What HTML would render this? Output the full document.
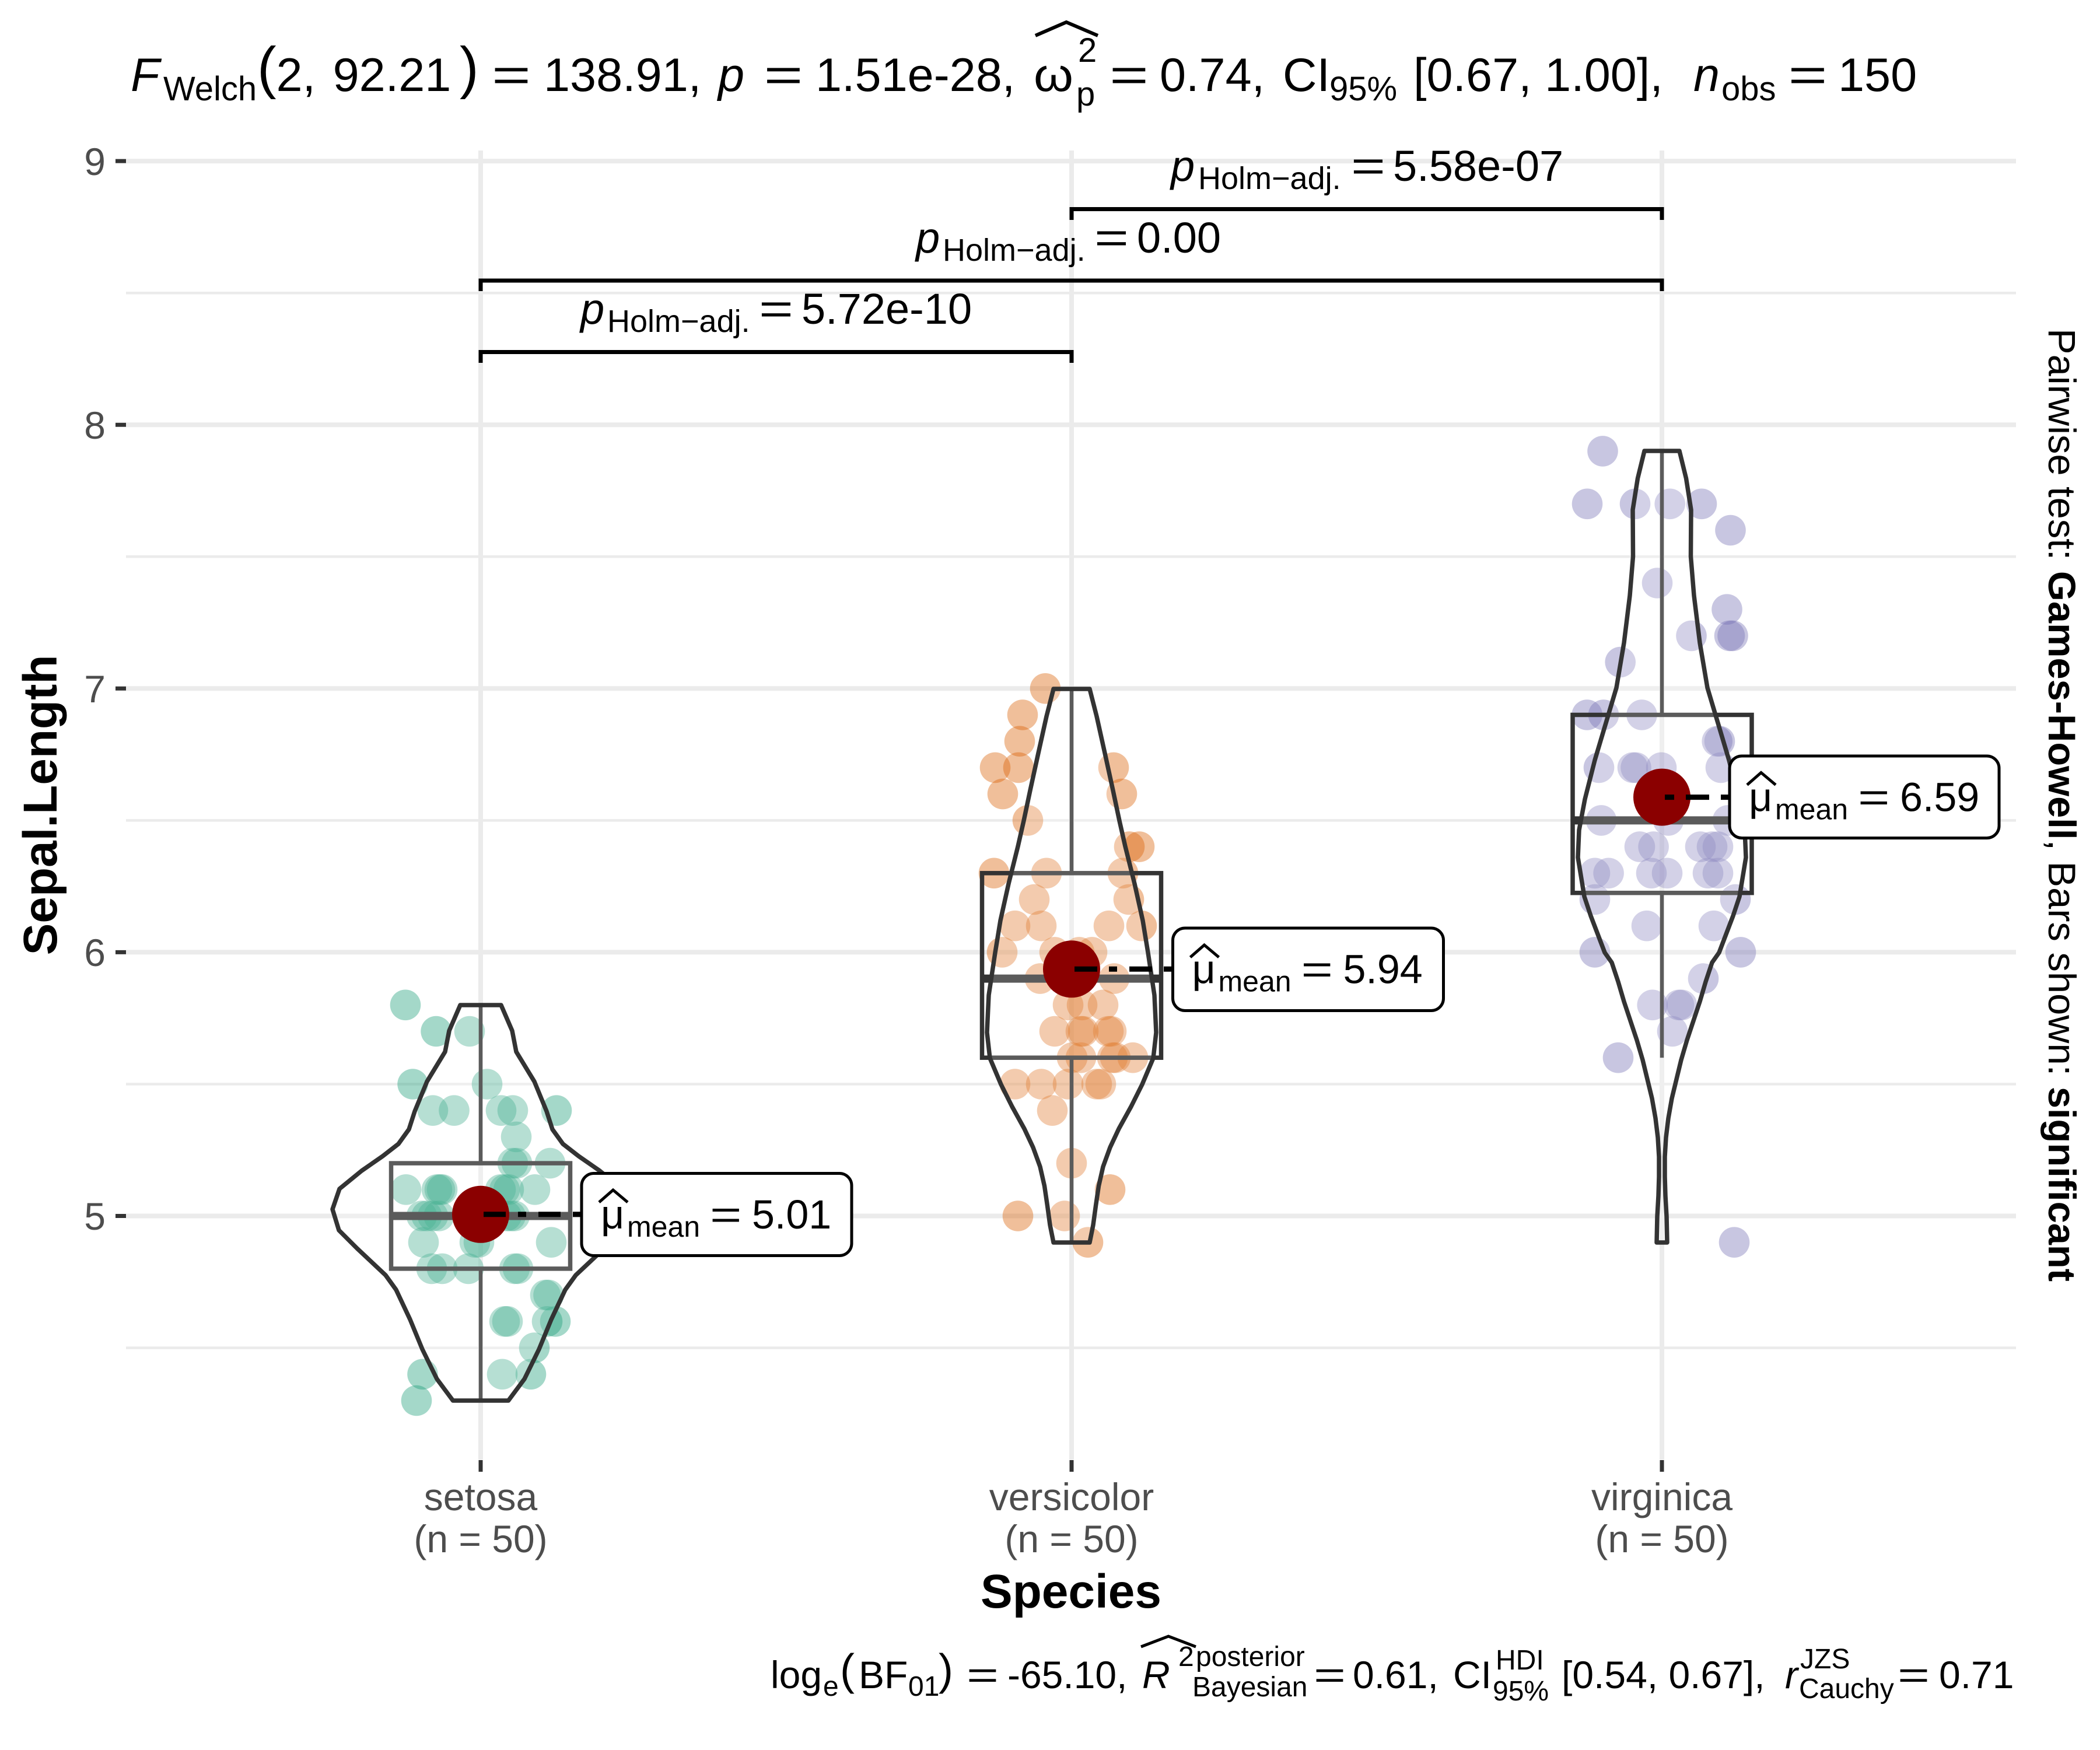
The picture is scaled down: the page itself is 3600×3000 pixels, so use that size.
<!DOCTYPE html>
<html><head><meta charset="utf-8"><style>
html,body{margin:0;padding:0;background:#fff;}
svg{display:block;}
text{font-family:"Liberation Sans",Arial,sans-serif;}
</style></head><body>
<svg xmlns="http://www.w3.org/2000/svg" width="3600" height="3000" viewBox="0 0 3600 3000">
<rect width="3600" height="3000" fill="#fff"/>
<!-- grid -->
<g stroke="#EBEBEB" fill="none">
 <g stroke-width="4.5">
  <line x1="216" x2="3456" y1="502.2" y2="502.2"/>
  <line x1="216" x2="3456" y1="954.3" y2="954.3"/>
  <line x1="216" x2="3456" y1="1406.4" y2="1406.4"/>
  <line x1="216" x2="3456" y1="1858.5" y2="1858.5"/>
  <line x1="216" x2="3456" y1="2310.6" y2="2310.6"/>
 </g>
 <g stroke-width="8">
  <line x1="216" x2="3456" y1="276.1" y2="276.1"/>
  <line x1="216" x2="3456" y1="728.2" y2="728.2"/>
  <line x1="216" x2="3456" y1="1180.3" y2="1180.3"/>
  <line x1="216" x2="3456" y1="1632.4" y2="1632.4"/>
  <line x1="216" x2="3456" y1="2084.5" y2="2084.5"/>
  <line x1="824" x2="824" y1="258" y2="2502"/>
  <line x1="1837" x2="1837" y1="258" y2="2502"/>
  <line x1="2849" x2="2849" y1="258" y2="2502"/>
 </g>
</g>
<!-- axis ticks -->
<g stroke="#333" stroke-width="7">
 <line x1="198" x2="216" y1="276.1" y2="276.1"/>
 <line x1="198" x2="216" y1="728.2" y2="728.2"/>
 <line x1="198" x2="216" y1="1180.3" y2="1180.3"/>
 <line x1="198" x2="216" y1="1632.4" y2="1632.4"/>
 <line x1="198" x2="216" y1="2084.5" y2="2084.5"/>
 <line x1="824" x2="824" y1="2503" y2="2523"/>
 <line x1="1837" x2="1837" y1="2503" y2="2523"/>
 <line x1="2849" x2="2849" y1="2503" y2="2523"/>
</g>
<g font-size="66" fill="#4D4D4D" text-anchor="end">
 <text x="181" y="300">9</text>
 <text x="181" y="752">8</text>
 <text x="181" y="1204">7</text>
 <text x="181" y="1656">6</text>
 <text x="181" y="2108">5</text>
</g>
<g font-size="66" fill="#4D4D4D" text-anchor="middle">
 <text x="824" y="2589">setosa</text>
 <text x="824" y="2661">(n = 50)</text>
 <text x="1837" y="2589">versicolor</text>
 <text x="1837" y="2661">(n = 50)</text>
 <text x="2849" y="2589">virginica</text>
 <text x="2849" y="2661">(n = 50)</text>
</g>

<!-- points -->
<g fill="#1B9E77" fill-opacity="0.4">
<circle cx="695" cy="1722.8" r="26.3"/>
<circle cx="747.6" cy="1768" r="26.3"/><circle cx="805" cy="1768" r="26.3"/>
<circle cx="707.6" cy="1858.5" r="26.3"/><circle cx="835" cy="1858.5" r="26.3"/>
<circle cx="742" cy="1903.7" r="26.3"/><circle cx="778.5" cy="1903.7" r="26.3"/><circle cx="859" cy="1903.7" r="26.3"/><circle cx="879" cy="1903.7" r="26.3"/><circle cx="954" cy="1903.7" r="26.3"/>
<circle cx="885" cy="1948.9" r="26.3"/>
<circle cx="879" cy="1994.1" r="26.3"/><circle cx="886" cy="1994.1" r="26.3"/><circle cx="943" cy="1994.1" r="26.3"/>
<circle cx="696" cy="2039.3" r="26.3"/><circle cx="749" cy="2039.3" r="26.3"/><circle cx="754" cy="2039.3" r="26.3"/><circle cx="758" cy="2039.3" r="26.3"/><circle cx="858" cy="2039.3" r="26.3"/><circle cx="865" cy="2039.3" r="26.3"/><circle cx="872" cy="2039.3" r="26.3"/><circle cx="917" cy="2039.3" r="26.3"/>
<circle cx="723" cy="2084.5" r="26.3"/><circle cx="731.5" cy="2084.5" r="26.3"/><circle cx="742" cy="2084.5" r="26.3"/><circle cx="752.5" cy="2084.5" r="26.3"/><circle cx="823" cy="2084.5" r="26.3"/><circle cx="868" cy="2084.5" r="26.3"/><circle cx="875" cy="2084.5" r="26.3"/><circle cx="882" cy="2084.5" r="26.3"/>
<circle cx="726" cy="2129.7" r="26.3"/><circle cx="814" cy="2129.7" r="26.3"/><circle cx="821" cy="2129.7" r="26.3"/><circle cx="945" cy="2129.7" r="26.3"/>
<circle cx="740" cy="2174.9" r="26.3"/><circle cx="758" cy="2174.9" r="26.3"/><circle cx="803" cy="2174.9" r="26.3"/><circle cx="882" cy="2174.9" r="26.3"/><circle cx="888" cy="2174.9" r="26.3"/>
<circle cx="935" cy="2220.1" r="26.3"/><circle cx="940.5" cy="2220.1" r="26.3"/>
<circle cx="865" cy="2265.3" r="26.3"/><circle cx="870" cy="2265.3" r="26.3"/><circle cx="938" cy="2265.3" r="26.3"/><circle cx="952" cy="2265.3" r="26.3"/>
<circle cx="916" cy="2310.6" r="26.3"/>
<circle cx="724.5" cy="2355.8" r="26.3"/><circle cx="861" cy="2355.8" r="26.3"/><circle cx="910" cy="2355.8" r="26.3"/>
<circle cx="714" cy="2401" r="26.3"/>
</g>
<g fill="#D95F02" fill-opacity="0.4">
<circle cx="1792" cy="1180.3" r="26.3"/>
<circle cx="1753" cy="1225.5" r="26.3"/>
<circle cx="1748" cy="1270.7" r="26.3"/>
<circle cx="1706" cy="1315.9" r="26.3"/><circle cx="1746" cy="1315.9" r="26.3"/><circle cx="1909" cy="1315.9" r="26.3"/>
<circle cx="1719" cy="1361.1" r="26.3"/><circle cx="1923" cy="1361.1" r="26.3"/>
<circle cx="1762" cy="1406.4" r="26.3"/>
<circle cx="1936" cy="1451.6" r="26.3"/><circle cx="1953" cy="1451.6" r="26.3"/>
<circle cx="1704" cy="1496.8" r="26.3"/><circle cx="1794" cy="1496.8" r="26.3"/><circle cx="1925" cy="1496.8" r="26.3"/>
<circle cx="1773" cy="1542" r="26.3"/><circle cx="1935" cy="1542" r="26.3"/>
<circle cx="1740" cy="1587.2" r="26.3"/><circle cx="1785" cy="1587.2" r="26.3"/><circle cx="1901" cy="1587.2" r="26.3"/><circle cx="1957" cy="1587.2" r="26.3"/>
<circle cx="1718" cy="1632.4" r="26.3"/><circle cx="1808" cy="1632.4" r="26.3"/><circle cx="1850" cy="1632.4" r="26.3"/><circle cx="1872" cy="1632.4" r="26.3"/>
<circle cx="1783" cy="1677.6" r="26.3"/><circle cx="1910" cy="1677.6" r="26.3"/>
<circle cx="1831" cy="1722.8" r="26.3"/><circle cx="1855" cy="1722.8" r="26.3"/><circle cx="1891" cy="1722.8" r="26.3"/>
<circle cx="1808" cy="1768" r="26.3"/><circle cx="1853" cy="1768" r="26.3"/><circle cx="1857" cy="1768" r="26.3"/><circle cx="1900" cy="1768" r="26.3"/><circle cx="1905" cy="1768" r="26.3"/>
<circle cx="1838" cy="1813.2" r="26.3"/><circle cx="1853" cy="1813.2" r="26.3"/><circle cx="1907" cy="1813.2" r="26.3"/><circle cx="1912" cy="1813.2" r="26.3"/><circle cx="1942" cy="1813.2" r="26.3"/>
<circle cx="1740" cy="1858.5" r="26.3"/><circle cx="1785" cy="1858.5" r="26.3"/><circle cx="1831" cy="1858.5" r="26.3"/><circle cx="1880" cy="1858.5" r="26.3"/><circle cx="1887" cy="1858.5" r="26.3"/>
<circle cx="1804" cy="1903.7" r="26.3"/>
<circle cx="1837" cy="1994.1" r="26.3"/>
<circle cx="1903" cy="2039.3" r="26.3"/>
<circle cx="1745" cy="2084.5" r="26.3"/><circle cx="1825" cy="2084.5" r="26.3"/>
<circle cx="1865" cy="2129.7" r="26.3"/>
</g>
<g fill="#7570B3" fill-opacity="0.4">
<circle cx="2747.5" cy="773.4" r="26.3"/>
<circle cx="2721" cy="863.8" r="26.3"/><circle cx="2803" cy="863.8" r="26.3"/><circle cx="2862.7" cy="863.8" r="26.3"/><circle cx="2917" cy="863.8" r="26.3"/>
<circle cx="2966.5" cy="909" r="26.3"/>
<circle cx="2841" cy="999.5" r="26.3"/>
<circle cx="2960.5" cy="1044.7" r="26.3"/>
<circle cx="2899.5" cy="1089.9" r="26.3"/><circle cx="2965" cy="1089.9" r="26.3"/><circle cx="2970.5" cy="1089.9" r="26.3"/>
<circle cx="2777.7" cy="1135.1" r="26.3"/>
<circle cx="2720.7" cy="1225.5" r="26.3"/><circle cx="2749" cy="1225.5" r="26.3"/><circle cx="2814.5" cy="1225.5" r="26.3"/>
<circle cx="2943.7" cy="1270.7" r="26.3"/><circle cx="2948" cy="1270.7" r="26.3"/>
<circle cx="2741" cy="1315.9" r="26.3"/><circle cx="2799" cy="1315.9" r="26.3"/><circle cx="2804.5" cy="1315.9" r="26.3"/><circle cx="2848" cy="1315.9" r="26.3"/><circle cx="2950" cy="1315.9" r="26.3"/>
<circle cx="2745" cy="1406.4" r="26.3"/><circle cx="2860" cy="1406.4" r="26.3"/><circle cx="2962" cy="1406.4" r="26.3"/><circle cx="2990" cy="1406.4" r="26.3"/>
<circle cx="2811" cy="1451.6" r="26.3"/><circle cx="2834.6" cy="1451.6" r="26.3"/><circle cx="2915" cy="1451.6" r="26.3"/><circle cx="2935" cy="1451.6" r="26.3"/><circle cx="2945" cy="1451.6" r="26.3"/>
<circle cx="2734" cy="1496.8" r="26.3"/><circle cx="2757.6" cy="1496.8" r="26.3"/><circle cx="2831" cy="1496.8" r="26.3"/><circle cx="2858" cy="1496.8" r="26.3"/><circle cx="2928" cy="1496.8" r="26.3"/><circle cx="2945" cy="1496.8" r="26.3"/>
<circle cx="2734" cy="1542" r="26.3"/><circle cx="2975" cy="1542" r="26.3"/>
<circle cx="2823" cy="1587.2" r="26.3"/><circle cx="2938" cy="1587.2" r="26.3"/>
<circle cx="2734" cy="1632.4" r="26.3"/><circle cx="2984" cy="1632.4" r="26.3"/>
<circle cx="2920" cy="1677.6" r="26.3"/>
<circle cx="2832.7" cy="1722.8" r="26.3"/><circle cx="2878" cy="1722.8" r="26.3"/><circle cx="2883" cy="1722.8" r="26.3"/>
<circle cx="2867" cy="1768" r="26.3"/>
<circle cx="2774" cy="1813.2" r="26.3"/>
<circle cx="2973" cy="2129.7" r="26.3"/>
</g>

<!-- boxplots -->
<g stroke="#333" fill="none">
 <g stroke-width="6.5">
  <line x1="824" x2="824" y1="1722.8" y2="1994.1"/><line x1="824" x2="824" y1="2174.9" y2="2401"/>
  <line x1="1837" x2="1837" y1="1180.3" y2="1496.8"/><line x1="1837" x2="1837" y1="1813.2" y2="2129.7"/>
  <line x1="2849" x2="2849" y1="773.4" y2="1225.5"/><line x1="2849" x2="2849" y1="1530.7" y2="1813.2"/>
 </g>
 <g stroke-width="7.5">
  <rect x="670.5" y="1994.1" width="307" height="180.8"/>
  <rect x="1683.5" y="1496.8" width="307" height="316.4"/>
  <rect x="2696" y="1225.5" width="307" height="305.2"/>
 </g>
 <g stroke-width="14">
  <line x1="670.5" x2="977.5" y1="2084.5" y2="2084.5"/>
  <line x1="1683.5" x2="1990.5" y1="1677.6" y2="1677.6"/>
  <line x1="2696" x2="3003" y1="1406.4" y2="1406.4"/>
 </g>
</g>

<!-- violins -->
<g fill="#fff" fill-opacity="0.2" stroke="#333" stroke-width="7.5" stroke-linejoin="round">
<path d="M789,1723 L770,1767 L763,1803 L732,1854 L711,1905 L701,1936 L683,1961 L656,1982 L620,2007 L582,2038 L570,2073 L581,2109 L612,2140 L661,2186 L679,2211 L703,2262 L724,2313 L749,2364 L776.5,2401 L871.5,2401 L899,2364 L924,2313 L945,2262 L969,2211 L987,2186 L1036,2140 L1067,2109 L1078,2073 L1066,2038 L1028,2007 L992,1982 L965,1961 L947,1936 L937,1905 L916,1854 L885,1803 L878,1767 L859,1723 Z"/>
<path d="M1806,1181 L1794,1228 L1780,1291 L1766,1355 L1755,1407 L1745,1451 L1729,1515 L1715,1578 L1706,1633 L1695,1706 L1692,1770 L1697,1814 L1716,1859 L1735,1897 L1756,1935 L1771,1967 L1783,2000 L1790.5,2033 L1795.5,2067 L1800,2100 L1806,2130 L1868,2130 L1874,2100 L1878.5,2067 L1883.5,2033 L1891,2000 L1903,1967 L1918,1935 L1939,1897 L1958,1859 L1977,1814 L1982,1770 L1979,1706 L1968,1633 L1959,1578 L1945,1515 L1929,1451 L1919,1407 L1908,1355 L1894,1291 L1880,1228 L1868,1181 Z"/>
<path d="M2819,773 L2807.5,820 L2799,874 L2799.5,954 L2794,1021 L2784,1102 L2771,1179 L2754,1236 L2734,1303 L2717,1370 L2707,1423 L2705,1470 L2716,1537 L2727,1570 L2751,1633 L2763,1650 L2774,1683 L2784,1717 L2795,1750 L2806,1783 L2816,1817 L2824,1850 L2832,1883 L2838,1917 L2842,1950 L2844,1983 L2844,2017 L2843,2050 L2841,2085 L2840,2130 L2858,2130 L2857,2085 L2855,2050 L2854,2017 L2854,1983 L2856,1950 L2860,1917 L2866,1883 L2874,1850 L2882,1817 L2892,1783 L2903,1750 L2914,1717 L2924,1683 L2935,1650 L2947,1633 L2971,1570 L2982,1537 L2993,1470 L2991,1423 L2981,1370 L2964,1303 L2944,1236 L2927,1179 L2914,1102 L2904,1021 L2898.5,954 L2899,874 L2890.5,820 L2879,773 Z"/>
</g>

<!-- means -->
<g fill="#8B0000">
 <circle cx="824" cy="2081.8" r="49"/>
 <circle cx="1837" cy="1661.3" r="49"/>
 <circle cx="2849" cy="1366.6" r="49"/>
</g>
<g stroke="#000" stroke-width="9" fill="none">
 <path d="M829,2081.8 H997" stroke-dasharray="38 21 14 21"/>
 <path d="M1842,1661.3 H2010.5" stroke-dasharray="39 20 14 21"/>
 <path d="M2854,1366.6 H2965" stroke-dasharray="16 20 40 20"/>
</g>

<!-- mean labels -->
<g>
 <rect x="997" y="2011.5" width="463" height="141" rx="21" fill="#fff" stroke="#000" stroke-width="5"/>
 <polyline points="1027,2061 1051,2040 1076,2061" fill="none" stroke="#000" stroke-width="5"/>
 <text x="1030" y="2106" font-size="70">μ</text>
 <text x="1075" y="2120" font-size="50">mean</text>
 <text x="1217" y="2106" font-size="70" textLength="54.5" lengthAdjust="spacingAndGlyphs">=</text>
 <text x="1289" y="2106" font-size="70">5.01</text>

 <rect x="2010.5" y="1591" width="464" height="141.5" rx="21" fill="#fff" stroke="#000" stroke-width="5"/>
 <polyline points="2040.5,1641 2064.5,1620 2089.5,1641" fill="none" stroke="#000" stroke-width="5"/>
 <text x="2043.5" y="1685.5" font-size="70">μ</text>
 <text x="2088.5" y="1699.5" font-size="50">mean</text>
 <text x="2230.5" y="1685.5" font-size="70" textLength="54.5" lengthAdjust="spacingAndGlyphs">=</text>
 <text x="2302.5" y="1685.5" font-size="70">5.94</text>

 <rect x="2965" y="1296" width="462" height="140.6" rx="21" fill="#fff" stroke="#000" stroke-width="5"/>
 <polyline points="2995,1345.5 3019,1324.5 3044,1345.5" fill="none" stroke="#000" stroke-width="5"/>
 <text x="2998" y="1390.3" font-size="70">μ</text>
 <text x="3043" y="1404.3" font-size="50">mean</text>
 <text x="3185" y="1390.3" font-size="70" textLength="54.5" lengthAdjust="spacingAndGlyphs">=</text>
 <text x="3257" y="1390.3" font-size="70">6.59</text>
</g>

<!-- brackets -->
<g stroke="#000" stroke-width="7" fill="none">
 <path d="M824,622 V603.5 H1837 V622"/>
 <path d="M824,499 V481 H2849 V499"/>
 <path d="M1837,377 V358.5 H2849 V377"/>
</g>
<g>
 <text x="995" y="555" font-size="74" font-style="italic">p</text>
 <text x="1041" y="569" font-size="54">Holm−adj.</text>
 <text x="1301" y="555" font-size="74" textLength="59" lengthAdjust="spacingAndGlyphs">=</text>
 <text x="1374" y="555" font-size="74">5.72e-10</text>

 <text x="1570" y="433" font-size="74" font-style="italic">p</text>
 <text x="1616" y="447" font-size="54">Holm−adj.</text>
 <text x="1876" y="433" font-size="74" textLength="59" lengthAdjust="spacingAndGlyphs">=</text>
 <text x="1949" y="433" font-size="74">0.00</text>

 <text x="2007" y="310" font-size="74" font-style="italic">p</text>
 <text x="2054" y="324" font-size="54">Holm−adj.</text>
 <text x="2316" y="310" font-size="74" textLength="59" lengthAdjust="spacingAndGlyphs">=</text>
 <text x="2388" y="310" font-size="74">5.58e-07</text>
</g>

<!-- title -->
<g fill="#000">
 <text x="224" y="156" font-size="81" font-style="italic">F</text>
 <text x="280" y="172" font-size="58">Welch</text>
 <text x="441" y="149.4" font-size="98">(</text>
 <text x="473.5" y="156" font-size="81">2,</text>
 <text x="570.6" y="156" font-size="81">92.21</text>
 <text x="788" y="149.4" font-size="98">)</text>
 <text x="843" y="156" font-size="81" textLength="67" lengthAdjust="spacingAndGlyphs">=</text>
 <text x="932" y="156" font-size="81">138.91,</text>
 <text x="1231" y="156" font-size="81" font-style="italic">p</text>
 <text x="1309.5" y="156" font-size="81" textLength="67" lengthAdjust="spacingAndGlyphs">=</text>
 <text x="1398" y="156" font-size="81">1.51e-28,</text>
 <text x="1772" y="156" font-size="81" textLength="68" lengthAdjust="spacingAndGlyphs">ω</text>
 <polyline points="1775,61 1828,38 1882,61" fill="none" stroke="#000" stroke-width="6"/>
 <text x="1848" y="106" font-size="58">2</text>
 <text x="1845" y="181" font-size="58">p</text>
 <text x="1902" y="156" font-size="81" textLength="67" lengthAdjust="spacingAndGlyphs">=</text>
 <text x="1988" y="156" font-size="81">0.74,</text>
 <text x="2199" y="156" font-size="81">CI</text>
 <text x="2279" y="172" font-size="58">95%</text>
 <text x="2423" y="156" font-size="81">[0.67, 1.00],</text>
 <text x="2903" y="156" font-size="81" font-style="italic">n</text>
 <text x="2951" y="172" font-size="58">obs</text>
 <text x="3065.5" y="156" font-size="81" textLength="67" lengthAdjust="spacingAndGlyphs">=</text>
 <text x="3151" y="156" font-size="81">150</text>
</g>

<!-- axis titles -->
<text x="1836" y="2756" text-anchor="middle" font-size="82" font-weight="bold">Species</text>
<text transform="translate(97,1380) rotate(-90)" text-anchor="middle" font-size="82" font-weight="bold">Sepal.Length</text>

<!-- right side text -->
<text transform="translate(3512,563) rotate(90)" x="0" y="0" font-size="66" textLength="1634" lengthAdjust="spacingAndGlyphs">Pairwise test: <tspan font-weight="bold">Games-Howell</tspan>, Bars shown: <tspan font-weight="bold">significant</tspan></text>

<!-- caption -->
<g font-size="66" fill="#000">
 <text x="1321" y="2894">log</text>
 <text x="1411" y="2907" font-size="48">e</text>
 <text x="1440" y="2888" font-size="75">(</text>
 <text x="1472" y="2894">BF</text>
 <text x="1557" y="2907" font-size="48">01</text>
 <text x="1609" y="2888" font-size="75">)</text>
 <text x="1657" y="2894" textLength="55" lengthAdjust="spacingAndGlyphs">=</text>
 <text x="1727" y="2894">-65.10,</text>
 <text x="1958" y="2894" font-style="italic">R</text>
 <polyline points="1956,2823 2003,2805 2050,2823" fill="none" stroke="#000" stroke-width="5"/>
 <text x="2020" y="2856" font-size="48">2</text>
 <text x="2050" y="2856" font-size="48">posterior</text>
 <text x="2044" y="2908" font-size="48">Bayesian</text>
 <text x="2252" y="2894" textLength="55" lengthAdjust="spacingAndGlyphs">=</text>
 <text x="2319" y="2894">0.61,</text>
 <text x="2491" y="2894">CI</text>
 <text x="2564" y="2862" font-size="48">HDI</text>
 <text x="2559" y="2915" font-size="48">95%</text>
 <text x="2677" y="2894">[0.54, 0.67],</text>
 <text x="3060" y="2894" font-style="italic">r</text>
 <text x="3086" y="2860" font-size="48">JZS</text>
 <text x="3084" y="2911" font-size="48">Cauchy</text>
 <text x="3253" y="2894" textLength="55" lengthAdjust="spacingAndGlyphs">=</text>
 <text x="3324" y="2894">0.71</text>
</g>
</svg>
</body></html>
